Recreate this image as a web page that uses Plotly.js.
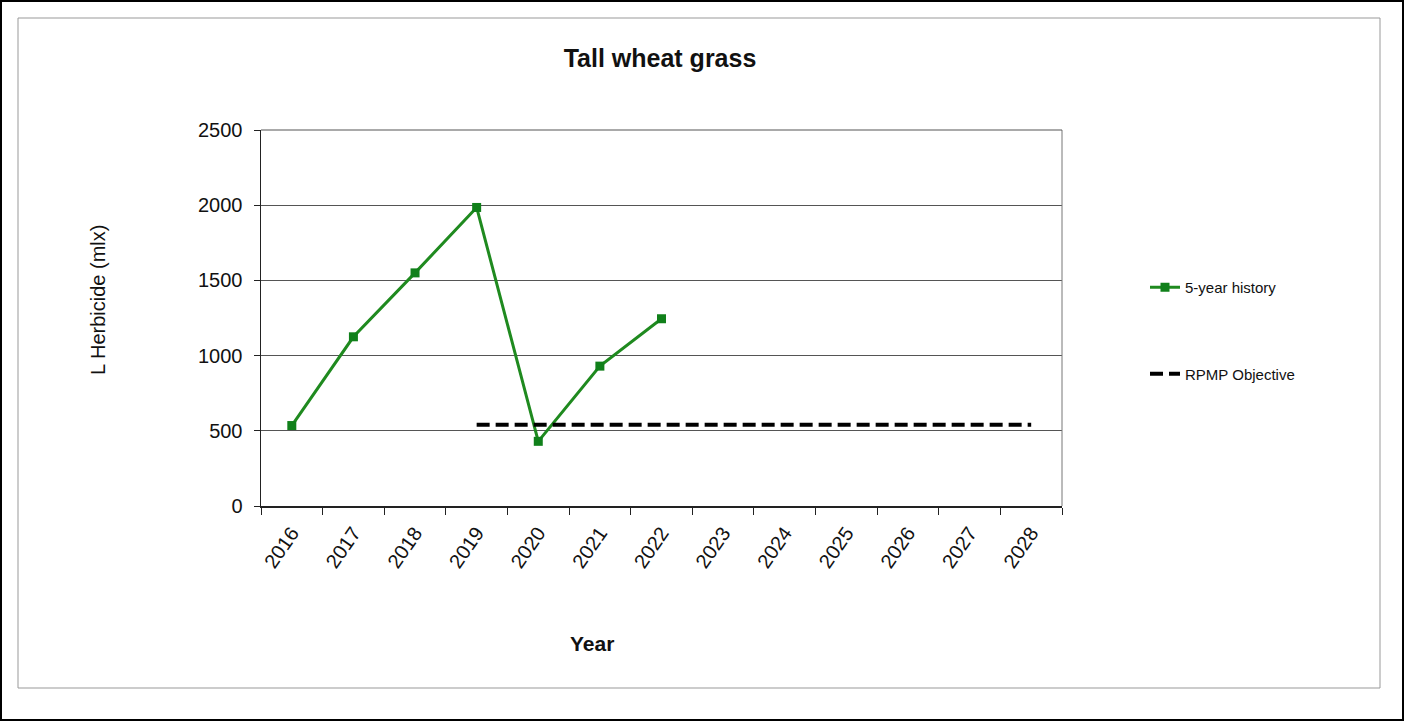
<!DOCTYPE html>
<html>
<head>
<meta charset="utf-8">
<script src="https://cdn.plot.ly/plotly-3.0.1.min.js"></script>
<style>html,body{margin:0;padding:0;background:#fff;}#chart{width:1405px;height:722px;}</style>
</head>
<body>
<div id="chart"></div>
<script>
const categories = ["2016","2017","2018","2019","2020","2021","2022","2023","2024","2025","2026","2027","2028"];
const historyYears = ["2016","2017","2018","2019","2020","2021","2022"];
const historyValues = [535, 1125, 1550, 1985, 430, 930, 1245];
const objectiveYears = ["2019","2020","2021","2022","2023","2024","2025","2026","2027","2028"];
const objectiveValues = [540, 540, 540, 540, 540, 540, 540, 540, 540, 540];
const yTitle = "L Herbicide (mlx)";
const xTitle = "Year";

const traces = [
  {
    x: historyYears, y: historyValues, name: "5-year history", type: "scatter", mode: "lines+markers",
    legendgroup: "a",
    line: {color: "#1f8a1f", width: 3},
    marker: {symbol: "square", size: 9, color: "#10801a"}
  },
  {
    x: objectiveYears, y: objectiveValues, name: "RPMP Objective", type: "scatter", mode: "lines",
    legendgroup: "b",
    line: {color: "#000000", width: 4, dash: "13px,6px"}
  }
];

const W = 801, H = 376, L = 261, B = 506;
const px = v => (v - L) / W;
const py = v => (B - v) / H;

const layout = {
  width: 1405, height: 722,
  margin: {l: 261, r: 343, t: 130, b: 216},
  paper_bgcolor: "#ffffff", plot_bgcolor: "#ffffff",
  font: {family: "Liberation Sans, Arial, sans-serif", color: "#111"},
  title: {text: "<b>Tall wheat grass</b>", font: {size: 25, color: "#111"}, x: 660/1405, xanchor: "center", y: 1 - 58/722, yanchor: "middle"},
  xaxis: {
    type: "category", categoryorder: "array", categoryarray: categories,
    range: [-0.5, 12.5],
    tickson: "boundaries", ticks: "outside", ticklen: 7, tickcolor: "#222",
    showline: true, linecolor: "#222", linewidth: 1.5,
    showgrid: false, zeroline: false,
    tickangle: -55, tickfont: {size: 20, color: "#111"},
    ticklabelstandoff: 6
  },
  yaxis: {
    range: [0, 2500], dtick: 500, tick0: 0,
    ticks: "outside", ticklen: 6, tickcolor: "#222",
    showline: true, linecolor: "#222", linewidth: 1.5,
    showgrid: true, gridcolor: "#555", gridwidth: 1,
    zeroline: false,
    tickfont: {size: 20, color: "#111"},
    ticklabelstandoff: 7
  },
  annotations: [
    {text: yTitle, xref: "paper", yref: "paper", x: px(98), y: py(300), xanchor: "center", yanchor: "middle",
     textangle: -90, showarrow: false, font: {size: 20, color: "#111"}},
    {text: "<b>" + xTitle + "</b>", xref: "paper", yref: "paper", x: px(592), y: py(643), xanchor: "center", yanchor: "middle",
     showarrow: false, font: {size: 21, color: "#111"}}
  ],
  showlegend: true,
  legend: {
    x: px(1145), y: py(271), xanchor: "left", yanchor: "top",
    bgcolor: "rgba(0,0,0,0)", font: {size: 15, color: "#111"},
    tracegroupgap: 64, itemwidth: 30
  },
  shapes: [
    {type: "rect", xref: "paper", yref: "paper", x0: px(1), x1: px(1403), y0: py(720), y1: py(1), line: {color: "#000", width: 2}},
    {type: "rect", xref: "paper", yref: "paper", x0: px(18), x1: px(1380), y0: py(688), y1: py(18), line: {color: "#999", width: 1}},
    {type: "line", xref: "paper", yref: "paper", x0: 1, x1: 1, y0: 0, y1: 1, line: {color: "#777", width: 1}},
    {type: "line", xref: "paper", yref: "paper", x0: 0, x1: 1, y0: 1, y1: 1, line: {color: "#555", width: 1}}
  ]
};

Plotly.newPlot("chart", traces, layout, {displayModeBar: false, staticPlot: true});
</script>
</body>
</html>
